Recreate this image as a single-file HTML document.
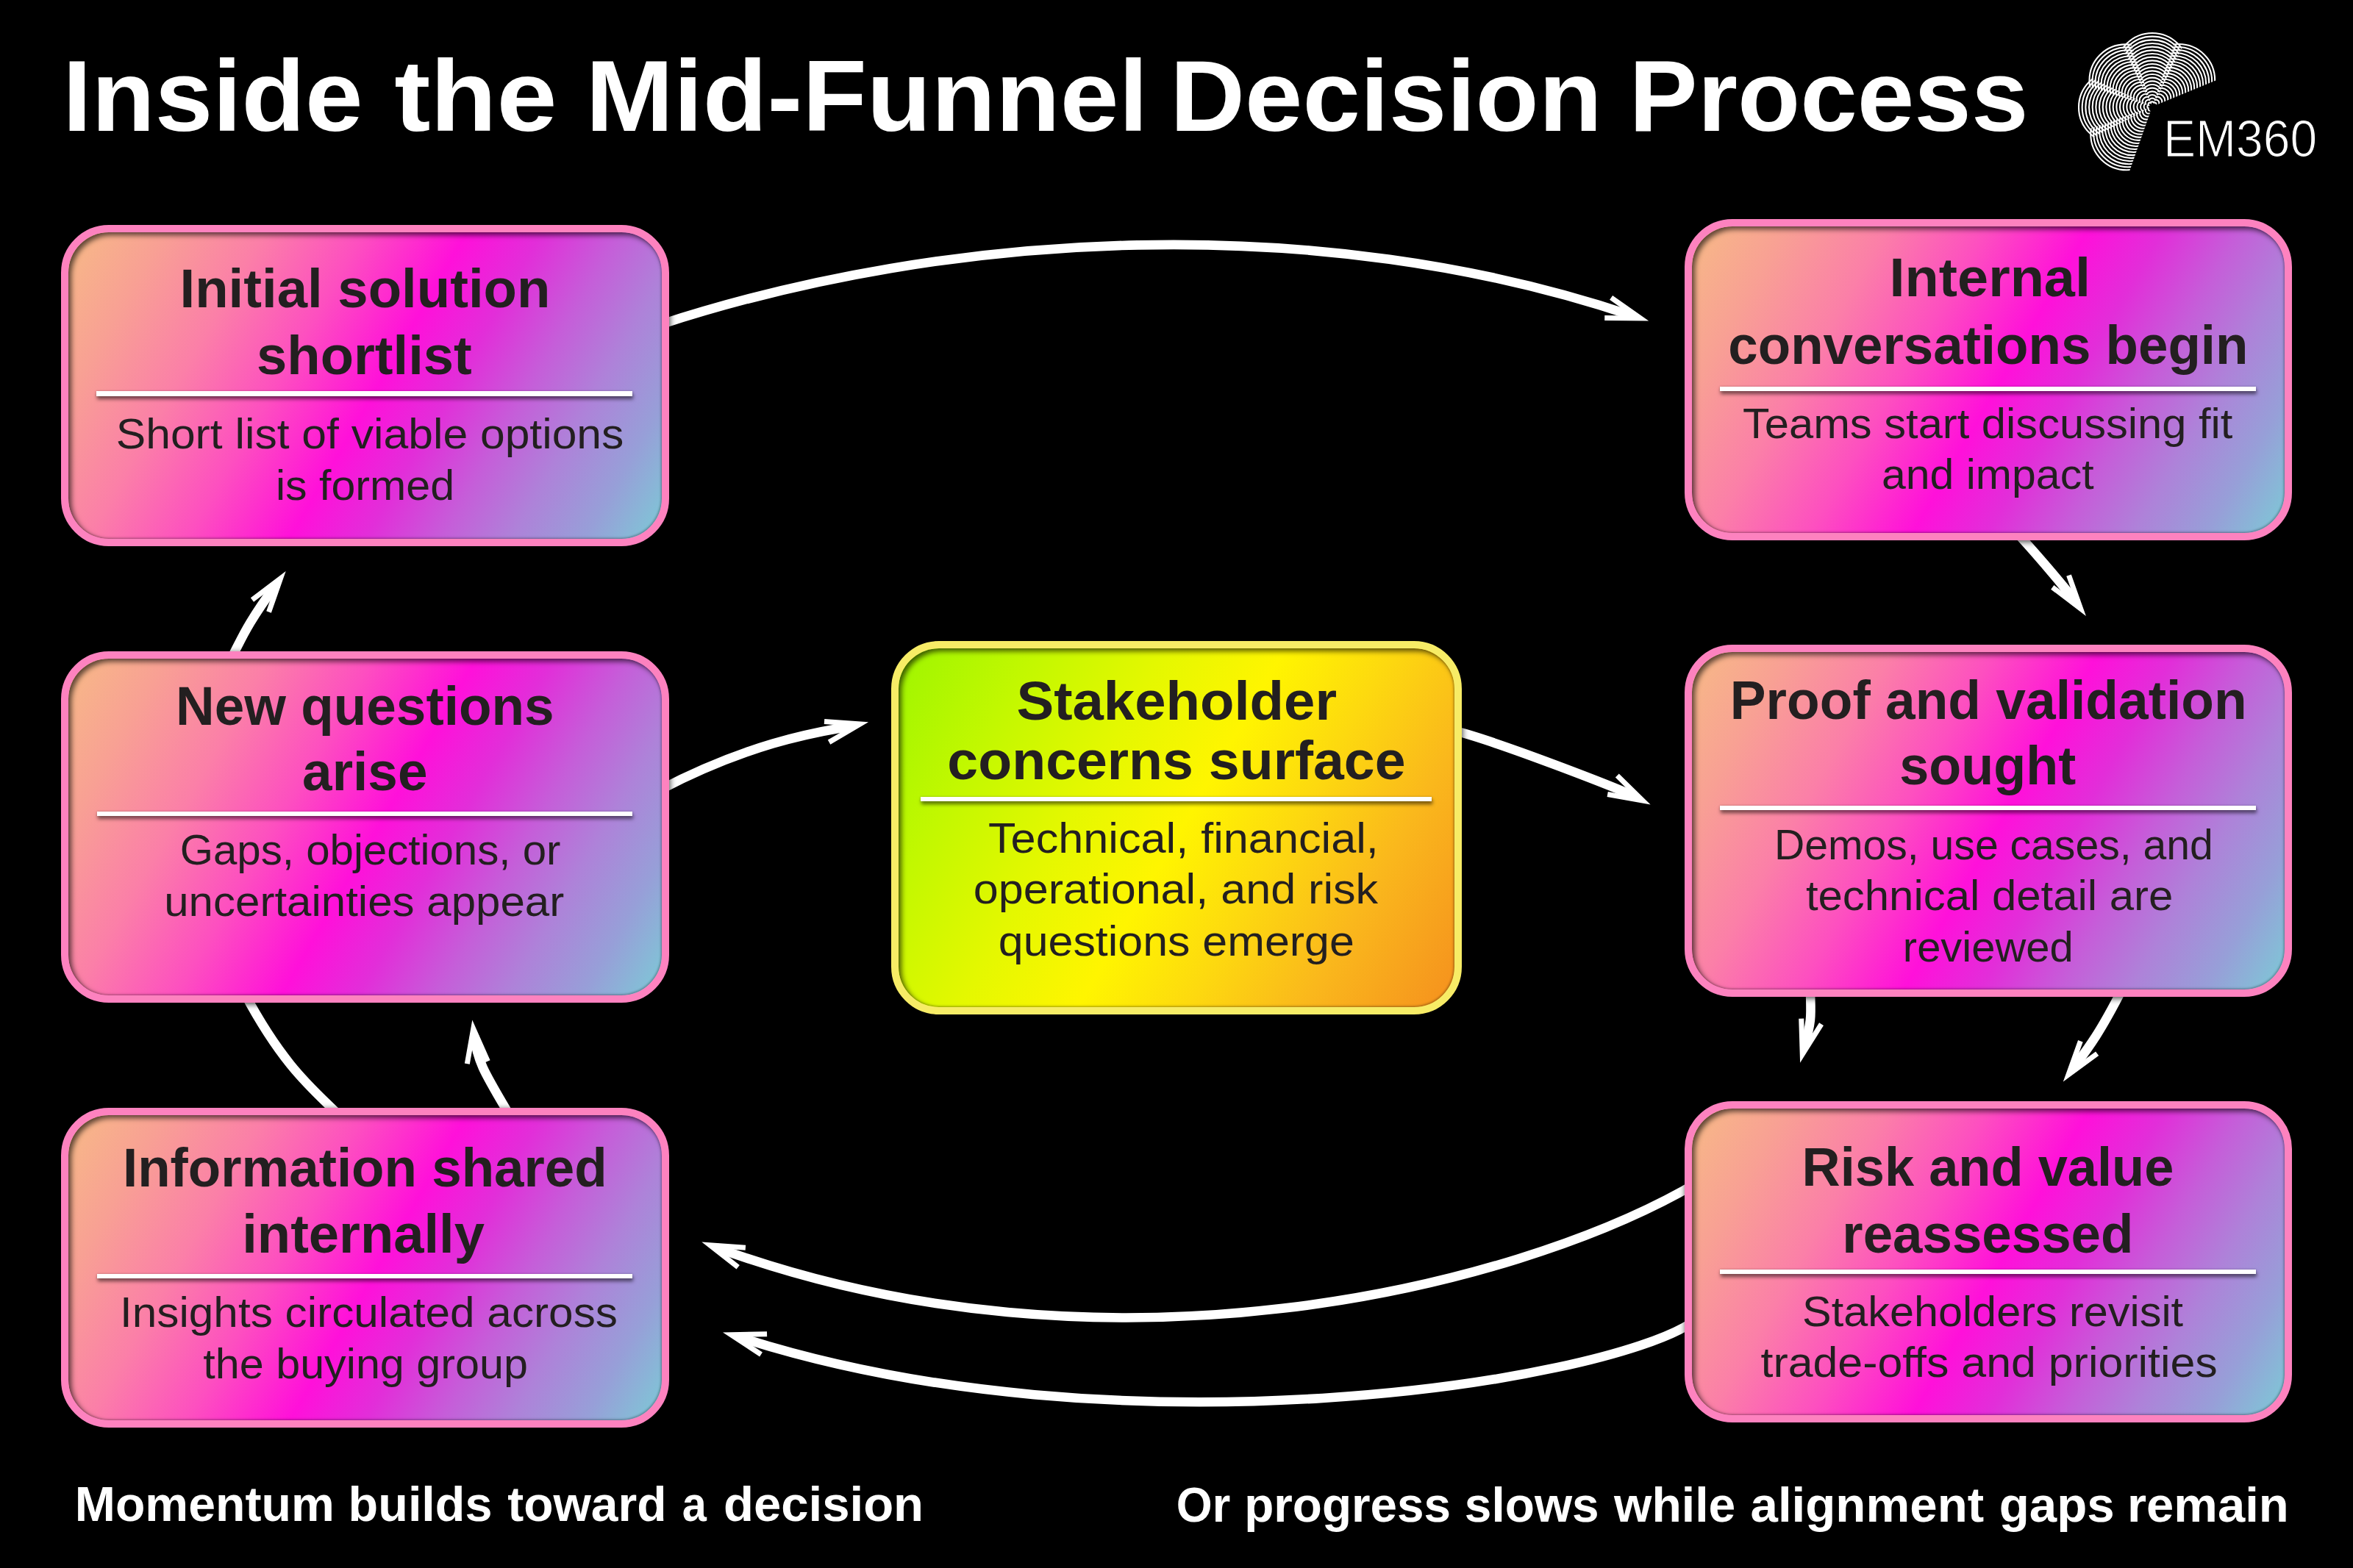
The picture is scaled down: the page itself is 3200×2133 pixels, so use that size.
<!DOCTYPE html>
<html><head><meta charset="utf-8"><style>
html,body{margin:0;padding:0;background:#000;}
body{width:3200px;height:2133px;position:relative;overflow:hidden;font-family:"Liberation Sans",sans-serif;}
svg{position:absolute;left:0;top:0;}
.box{position:absolute;box-sizing:border-box;border:10.5px solid #fd82bf;border-radius:65px;
box-shadow:inset 4px 4px 7px rgba(0,0,0,.62),inset -1px -1px 3px rgba(0,0,0,.3),1px 2px 8px rgba(0,0,0,.75);}
.box.p{background:linear-gradient(120deg,#f7ba86 0%,#f8a094 12.5%,#fb7fa8 25.5%,#fd4fc0 38.5%,#ff10da 51.7%,#e22ed9 61.5%,#c55ed9 71.5%,#ae82d9 80.5%,#979fd8 90%,#7ccbd6 100%);}
.box.y{background:linear-gradient(120deg,#9ef500 0%,#c2f800 18%,#e4f800 35%,#fff500 50.7%,#fdd90f 65%,#fab81c 80%,#f5901e 100%);border-color:#f7ec66;}
.div{position:absolute;height:6.2px;background:#fff;box-shadow:1px 4px 5px rgba(0,0,0,.55),0 0 3px rgba(0,0,0,.25);}
text{font-family:"Liberation Sans",sans-serif;}
</style></head><body>
<svg width="3200" height="2133" viewBox="0 0 3200 2133"><path d="M897.45 441.68C1291.71 312.94 1793.93 285.53 2221.25 429.87" fill="none" stroke="#fff" stroke-width="12.6"/><polygon points="2242.2,436.6 2193.12,402.09 2189.09,407.82 2219.79,429.4 2182.26,429.08 2182.2,436.08" fill="#fff"/><path d="M2742.88 725.04C2773 757.37 2811.93 803.82 2823.92 820.23" fill="none" stroke="#fff" stroke-width="12.6"/><polygon points="2836.9,838 2816.82,781.46 2810.23,783.8 2822.44,818.21 2793.39,796.1 2789.15,801.67" fill="#fff"/><path d="M1975.62 993.48C2035.89 1008.12 2205.39 1074.36 2225.06 1084.5" fill="none" stroke="#fff" stroke-width="12.6"/><polygon points="2244.6,1094.6 2201.76,1052.59 2196.86,1057.59 2223.46,1083.67 2186.8,1077.06 2185.55,1083.95" fill="#fff"/><path d="M897.3 1074.6C1037.82 1001.44 1134.88 993.06 1159.68 987.3" fill="none" stroke="#fff" stroke-width="12.6"/><polygon points="1181.1,982.3 1121.26,977.99 1120.75,984.97 1158.11,987.66 1125.8,1006.6 1129.34,1012.64" fill="#fff"/><path d="M313.86 896.83C328.95 868.85 332.56 854.03 375.74 794.78" fill="none" stroke="#fff" stroke-width="12.6"/><polygon points="388.7,777 340.85,813.2 345.07,818.78 374.44,796.57 362.28,831.32 368.88,833.63" fill="#fff"/><path d="M2461.82 1342.31C2462.58 1381.4 2465.12 1382.98 2453.85 1424.57" fill="none" stroke="#fff" stroke-width="12.6"/><polygon points="2448.1,1445.8 2479.98,1394.97 2474.05,1391.25 2454.38,1422.61 2453.23,1385.61 2446.24,1385.83" fill="#fff"/><path d="M2887.05 1343.77C2856.26 1404.43 2840.98 1424.41 2818.97 1453.87" fill="none" stroke="#fff" stroke-width="12.6"/><polygon points="2805.8,1471.5 2854.2,1436.04 2850.06,1430.39 2820.12,1452.33 2832.67,1417.4 2826.08,1415.03" fill="#fff"/><path d="M2300.52 1613.34C2056.34 1752.85 1502.95 1889.84 974.83 1697.32" fill="none" stroke="#fff" stroke-width="12.6"/><polygon points="954.3,1689.4 1001.53,1726.4 1005.85,1720.89 976.66,1698.03 1013.64,1700.69 1014.15,1693.7" fill="#fff"/><path d="M2300.88 1799.32C2174.3 1881.12 1520.19 1984.78 1004.14 1818.51" fill="none" stroke="#fff" stroke-width="12.6"/><polygon points="983,1812.4 1033.08,1845.44 1036.94,1839.6 1005.61,1818.93 1043.13,1818.15 1042.99,1811.15" fill="#fff"/><path d="M692.84 1516.78C659.51 1460.16 649.17 1444.32 644.96 1409.24" fill="none" stroke="#fff" stroke-width="12.6"/><polygon points="642.3,1387.4 631.88,1446.49 638.77,1447.7 645.2,1411.25 660.18,1445.1 666.58,1442.27" fill="#fff"/><path d="M332.95 1352.09C385.1 1449.53 424.32 1480.73 458.4 1514.3" fill="none" stroke="#fff" stroke-width="12.6"/><defs><clipPath id="lc0"><polygon points="2927,145 3047.19,95.46 3043,86.31 3038.11,77.52 3032.56,69.12 3026.37,61.19 3019.59,53.75 3012.26,46.86 3004.41,40.56 2996.1,34.89 2987.37,29.87 2978.29,25.54 2968.89,21.94"/></clipPath><clipPath id="lc1"><polygon points="2927,145 2985.61,28.96 2975.56,24.41 2965.17,20.73 2954.49,17.94 2943.62,16.07 2932.63,15.12 2921.6,15.11 2910.6,16.04 2899.73,17.89 2889.05,20.66 2878.65,24.33 2868.59,28.86"/></clipPath><clipPath id="lc2"><polygon points="2927,145 2885.32,21.86 2874.92,25.89 2864.9,30.79 2855.33,36.54 2846.3,43.08 2837.86,50.38 2830.07,58.37 2823,66.99 2816.7,76.2 2811.21,85.91 2806.57,96.05 2802.81,106.56"/></clipPath><clipPath id="lc3"><polygon points="2927,145 2809.37,89.65 2805.16,99.67 2801.8,110 2799.31,120.58 2797.72,131.33 2797.03,142.17 2797.25,153.04 2798.37,163.85 2800.4,174.52 2803.31,185 2807.08,195.19 2811.69,205.03"/></clipPath><clipPath id="lc4"><polygon points="2927,145 2804.46,188.39 2808.37,198.18 2813.07,207.61 2818.52,216.63 2824.67,225.18 2831.5,233.21 2838.96,240.65 2847,247.47 2855.56,253.61 2864.59,259.04 2874.03,263.72 2883.82,267.62"/></clipPath></defs><g fill="none" stroke="#fff" stroke-width="2.1"><g clip-path="url(#lc0)"><circle cx="2930.07" cy="141.95" r="2.33"/><circle cx="2931.73" cy="140.3" r="4.67"/><circle cx="2933.39" cy="138.66" r="7"/><circle cx="2935.04" cy="137.01" r="9.33"/><circle cx="2936.7" cy="135.37" r="11.67"/><circle cx="2938.35" cy="133.73" r="14"/><circle cx="2940.01" cy="132.08" r="16.33"/><circle cx="2941.66" cy="130.44" r="18.67"/><circle cx="2943.32" cy="128.79" r="21"/><circle cx="2944.98" cy="127.15" r="23.33"/><circle cx="2946.63" cy="125.51" r="25.67"/><circle cx="2948.29" cy="123.86" r="28"/><circle cx="2949.94" cy="122.22" r="30.33"/><circle cx="2951.6" cy="120.57" r="32.67"/><circle cx="2953.25" cy="118.93" r="35"/><circle cx="2954.91" cy="117.28" r="37.33"/><circle cx="2956.57" cy="115.64" r="39.67"/><circle cx="2958.22" cy="114" r="42"/><circle cx="2959.88" cy="112.35" r="44.33"/><circle cx="2961.53" cy="110.71" r="46.67"/><circle cx="2963.19" cy="109.06" r="49"/></g><g clip-path="url(#lc1)"><circle cx="2927" cy="140.67" r="2.33"/><circle cx="2927" cy="138.33" r="4.67"/><circle cx="2927" cy="136" r="7"/><circle cx="2927" cy="133.67" r="9.33"/><circle cx="2927" cy="131.33" r="11.67"/><circle cx="2927" cy="129" r="14"/><circle cx="2927" cy="126.67" r="16.33"/><circle cx="2927" cy="124.33" r="18.67"/><circle cx="2927" cy="122" r="21"/><circle cx="2927" cy="119.67" r="23.33"/><circle cx="2927" cy="117.33" r="25.67"/><circle cx="2927" cy="115" r="28"/><circle cx="2927" cy="112.67" r="30.33"/><circle cx="2927" cy="110.33" r="32.67"/><circle cx="2927" cy="108" r="35"/><circle cx="2927" cy="105.67" r="37.33"/><circle cx="2927" cy="103.33" r="39.67"/><circle cx="2927" cy="101" r="42"/><circle cx="2927" cy="98.67" r="44.33"/><circle cx="2927" cy="96.33" r="46.67"/><circle cx="2927" cy="94" r="49"/></g><g clip-path="url(#lc2)"><circle cx="2923.9" cy="141.97" r="2.33"/><circle cx="2922.23" cy="140.34" r="4.67"/><circle cx="2920.56" cy="138.71" r="7"/><circle cx="2918.89" cy="137.08" r="9.33"/><circle cx="2917.22" cy="135.45" r="11.67"/><circle cx="2915.55" cy="133.83" r="14"/><circle cx="2913.88" cy="132.2" r="16.33"/><circle cx="2912.21" cy="130.57" r="18.67"/><circle cx="2910.54" cy="128.94" r="21"/><circle cx="2908.87" cy="127.31" r="23.33"/><circle cx="2907.2" cy="125.68" r="25.67"/><circle cx="2905.53" cy="124.05" r="28"/><circle cx="2903.86" cy="122.42" r="30.33"/><circle cx="2902.19" cy="120.79" r="32.67"/><circle cx="2900.52" cy="119.16" r="35"/><circle cx="2898.85" cy="117.53" r="37.33"/><circle cx="2897.18" cy="115.9" r="39.67"/><circle cx="2895.51" cy="114.27" r="42"/><circle cx="2893.84" cy="112.64" r="44.33"/><circle cx="2892.17" cy="111.01" r="46.67"/><circle cx="2890.5" cy="109.38" r="49"/></g><g clip-path="url(#lc3)"><circle cx="2922.67" cy="145.08" r="2.33"/><circle cx="2920.33" cy="145.13" r="4.67"/><circle cx="2918" cy="145.17" r="7"/><circle cx="2915.67" cy="145.22" r="9.33"/><circle cx="2913.34" cy="145.26" r="11.67"/><circle cx="2911" cy="145.31" r="14"/><circle cx="2908.67" cy="145.35" r="16.33"/><circle cx="2906.34" cy="145.4" r="18.67"/><circle cx="2904" cy="145.44" r="21"/><circle cx="2901.67" cy="145.49" r="23.33"/><circle cx="2899.34" cy="145.53" r="25.67"/><circle cx="2897.01" cy="145.58" r="28"/><circle cx="2894.67" cy="145.62" r="30.33"/><circle cx="2892.34" cy="145.67" r="32.67"/><circle cx="2890.01" cy="145.71" r="35"/><circle cx="2887.67" cy="145.76" r="37.33"/><circle cx="2885.34" cy="145.8" r="39.67"/><circle cx="2883.01" cy="145.84" r="42"/><circle cx="2880.68" cy="145.89" r="44.33"/><circle cx="2878.34" cy="145.93" r="46.67"/><circle cx="2876.01" cy="145.98" r="49"/></g><g clip-path="url(#lc4)"><circle cx="2924.04" cy="148.17" r="2.33"/><circle cx="2922.45" cy="149.88" r="4.67"/><circle cx="2920.86" cy="151.58" r="7"/><circle cx="2919.27" cy="153.29" r="9.33"/><circle cx="2917.68" cy="155" r="11.67"/><circle cx="2916.09" cy="156.7" r="14"/><circle cx="2914.5" cy="158.41" r="16.33"/><circle cx="2912.91" cy="160.11" r="18.67"/><circle cx="2911.31" cy="161.82" r="21"/><circle cx="2909.72" cy="163.53" r="23.33"/><circle cx="2908.13" cy="165.23" r="25.67"/><circle cx="2906.54" cy="166.94" r="28"/><circle cx="2904.95" cy="168.65" r="30.33"/><circle cx="2903.36" cy="170.35" r="32.67"/><circle cx="2901.77" cy="172.06" r="35"/><circle cx="2900.17" cy="173.77" r="37.33"/><circle cx="2898.58" cy="175.47" r="39.67"/><circle cx="2896.99" cy="177.18" r="42"/><circle cx="2895.4" cy="178.89" r="44.33"/><circle cx="2893.81" cy="180.59" r="46.67"/><circle cx="2892.22" cy="182.3" r="49"/></g></g><circle cx="2928.5" cy="146.5" r="6" fill="#000"/></svg>
<div class="box p" style="left:82.5px;top:306px;width:827px;height:437px"></div><div class="div" style="left:131px;top:532.4px;width:729px"></div><div class="box p" style="left:2290.5px;top:298px;width:826.5px;height:436.5px"></div><div class="div" style="left:2339px;top:525.6px;width:728.5px"></div><div class="box p" style="left:83px;top:885.5px;width:826.5px;height:478px"></div><div class="div" style="left:131.5px;top:1103.9px;width:728.5px"></div><div class="box y" style="left:1211.5px;top:872px;width:776.5px;height:508px"></div><div class="div" style="left:1251.5px;top:1084.1px;width:695.5px"></div><div class="box p" style="left:2290.5px;top:877px;width:826.5px;height:478.5px"></div><div class="div" style="left:2339px;top:1096.2px;width:728.5px"></div><div class="box p" style="left:83px;top:1506.5px;width:826.5px;height:435.5px"></div><div class="div" style="left:131.5px;top:1733.1px;width:728.5px"></div><div class="box p" style="left:2290.5px;top:1498px;width:826.5px;height:436.5px"></div><div class="div" style="left:2339px;top:1727.1px;width:728.5px"></div>
<svg width="3200" height="2133" viewBox="0 0 3200 2133"><text x="0" y="0" transform="translate(85.19,178) scale(1.0228,1)" font-weight="700" font-size="138.16" fill="#fff">Inside</text><text x="0" y="0" transform="translate(536.13,178) scale(1.0682,1)" font-weight="700" font-size="138.16" fill="#fff">the</text><text x="0" y="0" transform="translate(796.46,178) scale(1.0383,1)" font-weight="700" font-size="138.16" fill="#fff">Mid-Funnel</text><text x="0" y="0" transform="translate(1591.32,178) scale(1.0202,1)" font-weight="700" font-size="138.16" fill="#fff">Decision</text><text x="0" y="0" transform="translate(2215.61,178) scale(1.0097,1)" font-weight="700" font-size="138.16" fill="#fff">Process</text><text x="0" y="0" transform="translate(101.81,2069.3) scale(0.9978,1)" font-weight="700" font-size="66.34" fill="#fff">Momentum</text><text x="0" y="0" transform="translate(473.59,2069.3) scale(1.0031,1)" font-weight="700" font-size="66.34" fill="#fff">builds</text><text x="0" y="0" transform="translate(690.2,2069.3) scale(0.9953,1)" font-weight="700" font-size="66.34" fill="#fff">toward</text><text x="0" y="0" transform="translate(927.7,2069.3) scale(0.8973,1)" font-weight="700" font-size="66.34" fill="#fff">a</text><text x="0" y="0" transform="translate(983.98,2069.3) scale(1.0112,1)" font-weight="700" font-size="66.34" fill="#fff">decision</text><text x="0" y="0" transform="translate(1599.7,2070.3) scale(0.9492,1)" font-weight="700" font-size="66.34" fill="#fff">Or</text><text x="0" y="0" transform="translate(1692.14,2070.3) scale(0.9897,1)" font-weight="700" font-size="66.34" fill="#fff">progress</text><text x="0" y="0" transform="translate(1991.82,2070.3) scale(0.9921,1)" font-weight="700" font-size="66.34" fill="#fff">slows</text><text x="0" y="0" transform="translate(2195.1,2070.3) scale(0.9960,1)" font-weight="700" font-size="66.34" fill="#fff">while</text><text x="0" y="0" transform="translate(2380.49,2070.3) scale(1.0142,1)" font-weight="700" font-size="66.34" fill="#fff">alignment</text><text x="0" y="0" transform="translate(2718.67,2070.3) scale(1.0144,1)" font-weight="700" font-size="66.34" fill="#fff">gaps</text><text x="0" y="0" transform="translate(2892.96,2070.3) scale(1.0105,1)" font-weight="700" font-size="66.34" fill="#fff">remain</text><text x="0" y="0" transform="translate(244.56,418) scale(1.0096,1)" font-weight="700" font-size="73.64" fill="#231f20">Initial solution</text><text x="0" y="0" transform="translate(349.08,508.5) scale(1.0076,1)" font-weight="700" font-size="73.64" fill="#231f20">shortlist</text><text x="0" y="0" transform="translate(157.77,609.5) scale(1.0669,1)" font-weight="400" font-size="56.81" fill="#231f20">Short list of viable options</text><text x="0" y="0" transform="translate(374.88,679.9) scale(1.0411,1)" font-weight="400" font-size="56.81" fill="#231f20">is formed</text><text x="0" y="0" transform="translate(2569.59,403.4) scale(1.0281,1)" font-weight="700" font-size="73.64" fill="#231f20">Internal</text><text x="0" y="0" transform="translate(2350.32,495) scale(0.9876,1)" font-weight="700" font-size="73.64" fill="#231f20">conversations begin</text><text x="0" y="0" transform="translate(2369.95,596) scale(1.0504,1)" font-weight="400" font-size="56.81" fill="#231f20">Teams start discussing fit</text><text x="0" y="0" transform="translate(2558.92,665.2) scale(1.0390,1)" font-weight="400" font-size="56.81" fill="#231f20">and impact</text><text x="0" y="0" transform="translate(239.04,985.7) scale(0.9904,1)" font-weight="700" font-size="73.64" fill="#231f20">New questions</text><text x="0" y="0" transform="translate(411.12,1074.5) scale(0.9905,1)" font-weight="700" font-size="73.64" fill="#231f20">arise</text><text x="0" y="0" transform="translate(244.65,1176.1) scale(1.0249,1)" font-weight="400" font-size="56.81" fill="#231f20">Gaps, objections, or</text><text x="0" y="0" transform="translate(223.23,1246.4) scale(1.0569,1)" font-weight="400" font-size="56.81" fill="#231f20">uncertainties appear</text><text x="0" y="0" transform="translate(1382.43,978.5) scale(1.0335,1)" font-weight="700" font-size="73.64" fill="#231f20">Stakeholder</text><text x="0" y="0" transform="translate(1288.36,1060.4) scale(1.0221,1)" font-weight="700" font-size="73.64" fill="#231f20">concerns surface</text><text x="0" y="0" transform="translate(1344.02,1159.7) scale(1.0776,1)" font-weight="400" font-size="56.81" fill="#231f20">Technical, financial,</text><text x="0" y="0" transform="translate(1323.75,1229.4) scale(1.0761,1)" font-weight="400" font-size="56.81" fill="#231f20">operational, and risk</text><text x="0" y="0" transform="translate(1357.86,1299.8) scale(1.0717,1)" font-weight="400" font-size="56.81" fill="#231f20">questions emerge</text><text x="0" y="0" transform="translate(2352.83,977.8) scale(0.9930,1)" font-weight="700" font-size="73.64" fill="#231f20">Proof and validation</text><text x="0" y="0" transform="translate(2583.34,1066.8) scale(0.9776,1)" font-weight="700" font-size="73.64" fill="#231f20">sought</text><text x="0" y="0" transform="translate(2412.98,1168.5) scale(1.0053,1)" font-weight="400" font-size="56.81" fill="#231f20">Demos, use cases, and</text><text x="0" y="0" transform="translate(2455.9,1237.7) scale(1.0544,1)" font-weight="400" font-size="56.81" fill="#231f20">technical detail are</text><text x="0" y="0" transform="translate(2587.84,1307.6) scale(1.0199,1)" font-weight="400" font-size="56.81" fill="#231f20">reviewed</text><text x="0" y="0" transform="translate(166.95,1613.9) scale(0.9878,1)" font-weight="700" font-size="73.64" fill="#231f20">Information shared</text><text x="0" y="0" transform="translate(329.26,1703.7) scale(1.0072,1)" font-weight="700" font-size="73.64" fill="#231f20">internally</text><text x="0" y="0" transform="translate(162.99,1805.4) scale(1.0614,1)" font-weight="400" font-size="56.81" fill="#231f20">Insights circulated across</text><text x="0" y="0" transform="translate(276.3,1874.5) scale(1.0437,1)" font-weight="400" font-size="56.81" fill="#231f20">the buying group</text><text x="0" y="0" transform="translate(2450.48,1612.8) scale(0.9811,1)" font-weight="700" font-size="73.64" fill="#231f20">Risk and value</text><text x="0" y="0" transform="translate(2505.35,1703.6) scale(0.9872,1)" font-weight="700" font-size="73.64" fill="#231f20">reassessed</text><text x="0" y="0" transform="translate(2451.11,1803.5) scale(1.0451,1)" font-weight="400" font-size="56.81" fill="#231f20">Stakeholders revisit</text><text x="0" y="0" transform="translate(2394.5,1873.4) scale(1.0713,1)" font-weight="400" font-size="56.81" fill="#231f20">trade-offs and priorities</text>
<text x="0" y="0" transform="translate(2942,213) scale(0.93,1)" font-size="71" fill="#fff" stroke="#000" stroke-width="1.2" paint-order="normal" font-weight="400">EM360</text>
</svg>
</body></html>
